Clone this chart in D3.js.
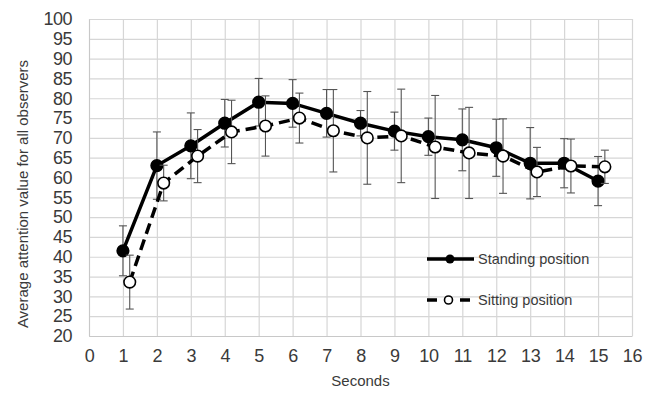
<!DOCTYPE html>
<html>
<head>
<meta charset="utf-8">
<script src="https://cdn.jsdelivr.net/npm/d3@7"></script>
<style>
  body { margin: 0; background: #fff; }
  text { font-family: "Liberation Sans", Arial, sans-serif; fill: #3a3a3a; }
</style>
</head>
<body>
<div id="chart"></div>
<script>
var svgWidth = 656;
var svgHeight = 394;
var margin = {top: 19, right: 24, bottom: 58, left: 89};
var width = svgWidth - margin.left - margin.right;
var height = svgHeight - margin.top - margin.bottom;

// data
var seconds = [1, 2, 3, 4, 5, 6, 7, 8, 9, 10, 11, 12, 13, 14, 15];
var standing = [41.5, 63, 68, 73.7, 79, 78.7, 76.2, 73.7, 71.7, 70.3, 69.5, 67.5, 63.6, 63.6, 59.1];
var standingErr = [6.3, 8.5, 8.3, 6, 6, 6, 6, 3.2, 4.8, 4.7, 7.8, 7.2, 9, 6.2, 6.2];
var sitting = [33.6, 58.6, 65.4, 71.5, 73, 75, 71.8, 70, 70.5, 67.7, 66.2, 65.4, 61.4, 62.9, 62.7];
var sittingErr = [6.8, 4.5, 6.7, 8, 7.6, 6.3, 10.4, 11.7, 11.8, 13, 11.5, 9.4, 6.2, 6.8, 4.2];
var xTicks = d3.range(0, 17, 1);
var yTicks = d3.range(20, 101, 5);
var sittingShift = 0.2; // sitting points are nudged right

var svg = d3.select("#chart")
  .append("svg")
  .attr("width", svgWidth)
  .attr("height", svgHeight);
var chart = svg.append("g")
  .attr("transform", "translate(" + margin.left + "," + margin.top + ")");

var x = d3.scaleLinear().domain([0, 16]).range([0, width]);
var y = d3.scaleLinear().domain([20, 100]).range([height, 0]);

// gridlines
chart.append("g")
  .attr("class", "grid")
  .attr("transform", "translate(0," + height + ")")
  .call(d3.axisBottom(x).tickValues(xTicks).tickSize(-height).tickFormat(""));
chart.append("g")
  .attr("class", "grid")
  .call(d3.axisLeft(y).tickValues(yTicks).tickSize(-width).tickFormat(""));
chart.selectAll(".grid line").attr("stroke", "#d6d6d6").attr("stroke-width", 1.2);
chart.selectAll(".grid .domain").remove();

// axis labels
var xAxis = chart.append("g")
  .attr("transform", "translate(0," + height + ")")
  .call(d3.axisBottom(x).tickValues(xTicks).tickSize(0).tickPadding(13));
xAxis.select(".domain").attr("stroke", "#c8c8c8");
xAxis.selectAll("text").attr("font-size", "18px").attr("letter-spacing", "-0.3px").style("fill", "#3a3a3a");

var yAxis = chart.append("g")
  .call(d3.axisLeft(y).tickValues(yTicks).tickSize(0).tickPadding(17));
yAxis.select(".domain").attr("stroke", "#c8c8c8");
yAxis.selectAll("text").attr("font-size", "18px").attr("letter-spacing", "-0.5px").style("fill", "#3a3a3a");

var series = [
  {name: "Standing position", values: standing, err: standingErr, shift: 0, dash: null, fill: "#000"},
  {name: "Sitting position", values: sitting, err: sittingErr, shift: sittingShift, dash: "11,6", fill: "#fff"}
];

var line = d3.line()
  .x(function(d) { return x(d.s); })
  .y(function(d) { return y(d.v); });

series.forEach(function(sr) {
  var pts = seconds.map(function(s, i) {
    return {s: s + sr.shift, v: sr.values[i], e: sr.err[i]};
  });
  var g = chart.append("g");

  // error bars
  var eb = g.selectAll(".eb").data(pts).enter().append("g").attr("class", "eb");
  eb.append("line")
    .attr("x1", function(d) { return x(d.s); })
    .attr("x2", function(d) { return x(d.s); })
    .attr("y1", function(d) { return y(d.v - d.e); })
    .attr("y2", function(d) { return y(d.v + d.e); })
    .attr("stroke", "#555").attr("stroke-width", 1.1);
  [-1, 1].forEach(function(sign) {
    eb.append("line")
      .attr("x1", function(d) { return x(d.s) - 4; })
      .attr("x2", function(d) { return x(d.s) + 4; })
      .attr("y1", function(d) { return y(d.v + sign * d.e); })
      .attr("y2", function(d) { return y(d.v + sign * d.e); })
      .attr("stroke", "#555").attr("stroke-width", 1.1);
  });

  g.append("path")
    .datum(pts)
    .attr("d", line)
    .attr("fill", "none")
    .attr("stroke", "#000")
    .attr("stroke-width", 3.5)
    .attr("stroke-dasharray", sr.dash);

  g.selectAll("circle").data(pts).enter().append("circle")
    .attr("cx", function(d) { return x(d.s); })
    .attr("cy", function(d) { return y(d.v); })
    .attr("r", 5.8)
    .attr("fill", sr.fill)
    .attr("stroke", "#000")
    .attr("stroke-width", 1.6);
});

// legend
var legend = chart.append("g").attr("transform", "translate(" + (427 - margin.left) + "," + (259 - margin.top) + ")");
legend.append("line").attr("x1", 0).attr("x2", 47).attr("y1", 0).attr("y2", 0)
  .attr("stroke", "#000").attr("stroke-width", 3.5);
legend.append("circle").attr("cx", 23).attr("cy", 0).attr("r", 4.5).attr("fill", "#000");
legend.append("text").attr("x", 51).attr("y", 5).attr("font-size", "14.5px").text(series[0].name);

var leg2 = legend.append("g").attr("transform", "translate(0,41)");
[[0, 10], [33, 43]].forEach(function(seg) {
  leg2.append("line").attr("x1", seg[0]).attr("x2", seg[1]).attr("y1", 0).attr("y2", 0)
    .attr("stroke", "#000").attr("stroke-width", 3.5);
});
leg2.append("circle").attr("cx", 21.5).attr("cy", 0).attr("r", 4).attr("fill", "#fff")
  .attr("stroke", "#000").attr("stroke-width", 1.6);
leg2.append("text").attr("x", 51).attr("y", 5).attr("font-size", "14.5px").text(series[1].name);

// axis titles
chart.append("text")
  .attr("transform", "translate(" + (width / 2) + "," + (height + 50) + ")")
  .attr("text-anchor", "middle")
  .attr("font-size", "15px")
  .text("Seconds");

chart.append("text")
  .attr("transform", "translate(" + (23 - margin.left) + "," + (194 - margin.top) + ") rotate(-90)")
  .attr("text-anchor", "middle")
  .attr("dy", "0.35em")
  .attr("font-size", "15px")
  .text("Average attention value for all observers");
</script>
</body>
</html>
